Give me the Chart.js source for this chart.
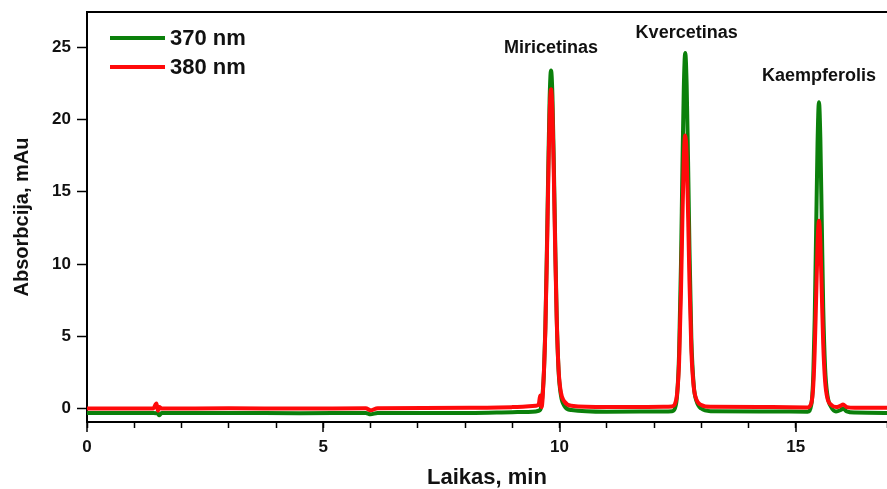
<!DOCTYPE html>
<html>
<head>
<meta charset="utf-8">
<title>Chromatograma</title>
<script src="https://cdn.jsdelivr.net/npm/chart.js@4"></script>
<style>
  html, body { margin: 0; padding: 0; background: #fff; }
  #wrap { width: 887px; height: 489px; position: relative; }
</style>
</head>
<body>
<div id="wrap"><canvas id="chrom"></canvas></div>
<script>
'use strict';

// laikas, min
var times = [0, 1.4, 1.47, 1.5, 1.53, 1.58, 3, 4.5, 5.9, 6.0, 6.15, 8.1, 9.0, 9.5,
  9.56, 9.59, 9.62, 9.67, 9.70, 9.73, 9.76, 9.79, 9.82, 9.85, 9.88, 9.91, 9.94, 9.98, 10.03, 10.1, 10.25,
  11,
  12.2, 12.38, 12.44, 12.49, 12.53, 12.57, 12.60, 12.63, 12.66, 12.69, 12.72, 12.75, 12.79, 12.84, 12.9, 13.0, 13.2, 14.5,
  15.25, 15.33, 15.37, 15.40, 15.43, 15.46, 15.49, 15.52, 15.55, 15.58, 15.62, 15.67, 15.75, 15.85, 15.95, 16.0, 16.08, 16.25, 17];

// 370 nm
var abs370 = [-0.3, -0.3, -0.32, -0.35, -0.47, -0.3, -0.3, -0.33, -0.3, -0.4, -0.3, -0.3, -0.25, -0.2,
  -0.15, -0.1, 0.3, 2.5, 5.6, 10.5, 16.3, 21.4, 23.4, 21.6, 16.8, 11.2, 6.4, 2.6, 0.9, 0.2, -0.1,
  -0.22,
  -0.2, -0.18, 0.0, 1.0, 3.8, 10, 16.5, 22.2, 24.6, 22.4, 17.1, 11, 4.8, 1.6, 0.5, 0.0, -0.18, -0.2,
  -0.22, 0.3, 2.3, 6.2, 12.2, 18.3, 21.2, 18.6, 12.8, 7, 2.8, 0.9, 0.1, -0.2, -0.1, 0.0, -0.2, -0.28, -0.3];

// 380 nm
var abs380 = [0.0, 0.0, 0.35, -0.15, 0.1, 0.0, 0.02, 0.0, 0.02, -0.12, 0.03, 0.05, 0.1, 0.2,
  0.3, 0.9, 0.1, 2.6, 5.5, 10.1, 15.5, 20.3, 22.1, 20.5, 16, 10.7, 6.2, 2.7, 1.1, 0.5, 0.2,
  0.1,
  0.12, 0.15, 0.3, 1.1, 3.2, 8.1, 13.1, 17.3, 18.9, 17.5, 13.5, 8.8, 4.0, 1.5, 0.6, 0.25, 0.12, 0.1,
  0.08, 0.4, 1.6, 4.0, 7.6, 11.3, 13.0, 11.5, 8.0, 4.5, 1.9, 0.7, 0.25, 0.1, 0.2, 0.28, 0.1, 0.05, 0.05];

var seriesNames = ['370 nm', '380 nm'];
var peakNames = ['Miricetinas', 'Kvercetinas', 'Kaempferolis'];
var peakTimes = [9.82, 12.69, 15.49];
var peakLabelY = [24.95, 26.0, 23.0];

var FONT = '"Liberation Sans", Arial, Helvetica, sans-serif';

function toPoints(xs, ys) {
  return xs.map(function(x, i) { return { x: x, y: ys[i] }; });
}

function noPadding(s) {
  s.paddingLeft = 0;
  s.paddingRight = 0;
  s.paddingTop = 0;
  s.paddingBottom = 0;
}

var extrasPlugin = {
  id: 'extras',
  afterDraw: function(chart) {
    var ctx = chart.ctx;
    var area = chart.chartArea;
    var xs = chart.scales.x;
    var ys = chart.scales.y;
    ctx.save();
    // top frame line
    ctx.strokeStyle = '#000';
    ctx.lineWidth = 2;
    ctx.beginPath();
    ctx.moveTo(area.left - 1, area.top);
    ctx.lineTo(area.right, area.top);
    ctx.stroke();
    // longer major ticks on x
    ctx.lineWidth = 1.5;
    [0, 5, 10, 15].forEach(function(v) {
      var px = Math.round(xs.getPixelForValue(v));
      ctx.beginPath();
      ctx.moveTo(px, area.bottom);
      ctx.lineTo(px, area.bottom + 10);
      ctx.stroke();
    });
    // legend inside the plot
    var ds = chart.data.datasets;
    ctx.font = 'bold 22px ' + FONT;
    ctx.textBaseline = 'middle';
    ctx.textAlign = 'left';
    for (var i = 0; i < ds.length; i++) {
      var ly = area.top + 26 + i * 29;
      ctx.strokeStyle = ds[i].borderColor;
      ctx.lineWidth = 4;
      ctx.beginPath();
      ctx.moveTo(area.left + 23, ly);
      ctx.lineTo(area.left + 78, ly);
      ctx.stroke();
      ctx.fillStyle = '#111';
      ctx.fillText(ds[i].label, area.left + 83, ly + 1);
    }
    // peak names
    ctx.font = 'bold 18px ' + FONT;
    ctx.textAlign = 'center';
    peakNames.forEach(function(name, k) {
      ctx.fillText(name, xs.getPixelForValue(peakTimes[k]), ys.getPixelForValue(peakLabelY[k]));
    });
    ctx.restore();
  }
};

new Chart(document.getElementById('chrom'), {
  type: 'line',
  data: {
    datasets: [{
      label: seriesNames[0],
      data: toPoints(times, abs370),
      borderColor: '#0b800b',
      borderWidth: 4,
      pointRadius: 0,
      cubicInterpolationMode: 'monotone',
      order: 2
    }, {
      label: seriesNames[1],
      data: toPoints(times, abs380),
      borderColor: '#ff0a0a',
      borderWidth: 4,
      pointRadius: 0,
      cubicInterpolationMode: 'monotone',
      order: 1
    }]
  },
  options: {
    responsive: true,
    maintainAspectRatio: false,
    animation: false,
    layout: { padding: { top: 12, right: 0, left: 0, bottom: 0 } },
    plugins: {
      legend: { display: false },
      tooltip: { enabled: false }
    },
    scales: {
      x: {
        type: 'linear',
        min: 0,
        max: 16.93,
        afterFit: function(s) { s.height = 67; noPadding(s); },
        border: { display: true, color: '#000', width: 2 },
        grid: { drawOnChartArea: false, tickLength: 6, tickColor: '#000', tickWidth: 1.5 },
        ticks: {
          stepSize: 1,
          autoSkip: false,
          maxRotation: 0,
          padding: 9,
          color: '#111',
          font: { family: FONT, size: 17, weight: 'bold' },
          callback: function(v) { return v % 5 === 0 ? String(v) : ''; }
        },
        title: {
          display: true,
          text: 'Laikas, min',
          color: '#111',
          font: { family: FONT, size: 22, weight: 'bold', lineHeight: 1 },
          padding: { top: 0, bottom: 0 }
        }
      },
      y: {
        min: -0.93,
        max: 27.44,
        afterFit: function(s) { s.width = 87; noPadding(s); },
        border: { display: true, color: '#000', width: 2 },
        grid: { drawOnChartArea: false, tickLength: 10, tickColor: '#000', tickWidth: 1.5 },
        afterBuildTicks: function(s) {
          s.ticks = [0, 5, 10, 15, 20, 25].map(function(v) { return { value: v }; });
        },
        ticks: {
          padding: 6,
          color: '#111',
          font: { family: FONT, size: 17, weight: 'bold' }
        },
        title: {
          display: true,
          text: 'Absorbcija, mAu',
          color: '#111',
          font: { family: FONT, size: 20, weight: 'bold', lineHeight: 1 },
          padding: { top: 12, bottom: 0 }
        }
      }
    }
  },
  plugins: [extrasPlugin]
});
</script>
</body>
</html>
